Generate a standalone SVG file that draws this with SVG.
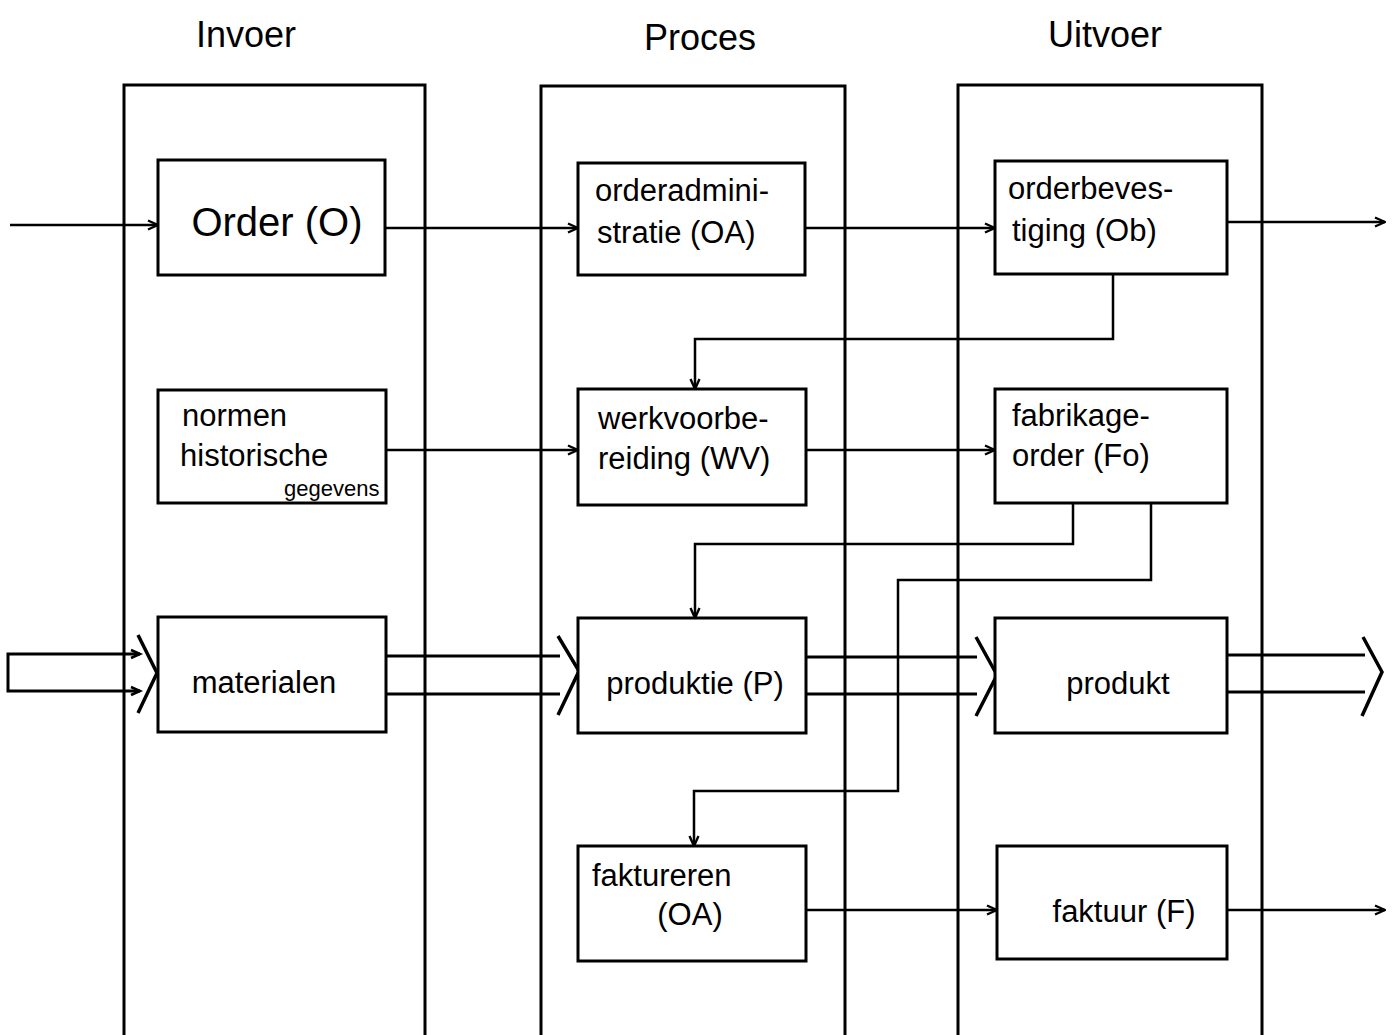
<svg xmlns="http://www.w3.org/2000/svg" width="1396" height="1035" viewBox="0 0 1396 1035">
  <defs>
    <marker id="arrow" viewBox="0 0 12 12" refX="11" refY="6" markerWidth="12" markerHeight="12" markerUnits="userSpaceOnUse" orient="auto">
      <path d="M1,1.5 L11,6 L1,10.5" fill="none" stroke="#000" stroke-width="2.4"/>
    </marker>
    <style>
      .lane { fill: none; stroke: #000; stroke-width: 3; }
      .box { fill: #fff; stroke: #000; stroke-width: 3; }
      .line { fill: none; stroke: #000; stroke-width: 2.5; }
      .flow { fill: none; stroke: #000; stroke-width: 3; }
      .chev { fill: none; stroke: #000; stroke-width: 3.5; stroke-linejoin: miter; }
      text { font-family: "Liberation Sans", Arial, sans-serif; fill: #000; }
      .head { font-size: 36px; text-anchor: middle; }
      .lbl { font-size: 31px; }
      .mid { text-anchor: middle; }
    </style>
  </defs>

  <rect width="1396" height="1035" fill="#fff"/>

  <!-- column headers -->
  <text class="head" x="246" y="47">Invoer</text>
  <text class="head" x="700" y="50">Proces</text>
  <text class="head" x="1105" y="47">Uitvoer</text>

  <!-- swim lanes, open at the bottom edge -->
  <g id="lanes">
    <path class="lane" d="M124,1040 V85 H425 V1040"/>
    <path class="lane" d="M541,1040 V86 H845 V1040"/>
    <path class="lane" d="M958,1040 V85 H1262 V1040"/>
  </g>

  <!-- connectors -->
  <g id="connectors">
    <!-- order flow -->
    <path class="line" d="M10,225 H158" marker-end="url(#arrow)"/>
    <path class="line" d="M385,228 H578" marker-end="url(#arrow)"/>
    <path class="line" d="M805,228 H995" marker-end="url(#arrow)"/>
    <path class="line" d="M1227,222 H1385" marker-end="url(#arrow)"/>
    <path class="line" d="M1113,274 V339 H695 V389" marker-end="url(#arrow)"/>

    <!-- norms into work preparation -->
    <path class="line" d="M386,450 H578" marker-end="url(#arrow)"/>
    <path class="line" d="M806,450 H995" marker-end="url(#arrow)"/>

    <!-- production order feedback -->
    <path class="line" d="M1073,503 V544 H695 V618" marker-end="url(#arrow)"/>
    <path class="line" d="M1151,503 V580 H898 V791 H694 V846" marker-end="url(#arrow)"/>

    <!-- invoicing -->
    <path class="line" d="M806,910 H997" marker-end="url(#arrow)"/>
    <path class="line" d="M1227,910 H1385" marker-end="url(#arrow)"/>

    <!-- material flow: double lines with chevrons -->
    <path class="flow" d="M140,654 H8 V691 H140"/>
    <path class="line" d="M131,650 L140,654 L131,658"/>
    <path class="line" d="M131,687 L140,691 L131,695"/>
    <path class="chev" d="M138,635 L157,673 L138,713"/>

    <path class="flow" d="M386,656 H560 M386,694 H560"/>
    <path class="chev" d="M558,636 L579,671 L558,715"/>

    <path class="flow" d="M806,657 H977 M806,694 H977"/>
    <path class="chev" d="M976,637 L997,675 L976,716"/>

    <path class="flow" d="M1227,655 H1365 M1227,692 H1365"/>
    <path class="chev" d="M1363,637 L1382,672 L1362,716"/>
  </g>

  <!-- input lane nodes -->
  <g id="order">
    <rect class="box" x="158" y="160" width="227" height="115"/>
    <text x="277" y="236" font-size="40" class="mid">Order (O)</text>
  </g>
  <g id="normen">
    <rect class="box" x="158" y="390" width="228" height="113"/>
    <text class="lbl" x="182" y="426">normen</text>
    <text class="lbl" x="180" y="466">historische</text>
    <text x="284" y="496" font-size="22">gegevens</text>
  </g>
  <g id="materialen">
    <rect class="box" x="158" y="617" width="228" height="115"/>
    <text class="lbl mid" x="264" y="693">materialen</text>
  </g>

  <!-- process lane nodes -->
  <g id="orderadministratie">
    <rect class="box" x="578" y="163" width="227" height="112"/>
    <text class="lbl" x="595" y="201">orderadmini-</text>
    <text class="lbl" x="597" y="243">stratie (OA)</text>
  </g>
  <g id="werkvoorbereiding">
    <rect class="box" x="578" y="389" width="228" height="116"/>
    <text class="lbl" x="598" y="429">werkvoorbe-</text>
    <text class="lbl" x="598" y="469">reiding (WV)</text>
  </g>
  <g id="produktie">
    <rect class="box" x="578" y="618" width="228" height="115"/>
    <text class="lbl mid" x="695" y="694">produktie (P)</text>
  </g>
  <g id="faktureren">
    <rect class="box" x="578" y="846" width="228" height="115"/>
    <text class="lbl" x="592" y="886">faktureren</text>
    <text class="lbl mid" x="690" y="925">(OA)</text>
  </g>

  <!-- output lane nodes -->
  <g id="orderbevestiging">
    <rect class="box" x="995" y="161" width="232" height="113"/>
    <text class="lbl" x="1008" y="199">orderbeves-</text>
    <text class="lbl" x="1012" y="241">tiging (Ob)</text>
  </g>
  <g id="fabrikage-order">
    <rect class="box" x="995" y="389" width="232" height="114"/>
    <text class="lbl" x="1012" y="426">fabrikage-</text>
    <text class="lbl" x="1012" y="466">order (Fo)</text>
  </g>
  <g id="produkt">
    <rect class="box" x="995" y="618" width="232" height="115"/>
    <text class="lbl mid" x="1118" y="694">produkt</text>
  </g>
  <g id="faktuur">
    <rect class="box" x="997" y="846" width="230" height="113"/>
    <text class="lbl mid" x="1124" y="922">faktuur (F)</text>
  </g>
</svg>
